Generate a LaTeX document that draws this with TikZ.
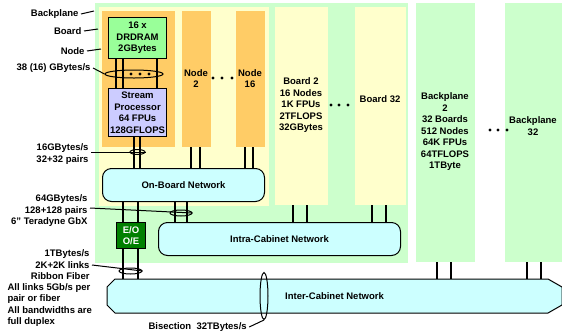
\documentclass[tikz,border=0pt]{standalone}
\usepackage{fontspec}
\setmainfont{Liberation Sans}
\usetikzlibrary{shapes.geometric}
\definecolor{bpgreen}{RGB}{204,255,204}
\definecolor{bdyellow}{RGB}{255,255,204}
\definecolor{ndorange}{RGB}{255,204,102}
\definecolor{memgreen}{RGB}{153,255,153}
\definecolor{splilac}{RGB}{204,204,255}
\definecolor{netcyan}{RGB}{204,255,255}
\definecolor{eogreen}{RGB}{0,128,0}

\begin{document}
\begin{tikzpicture}[x=1pt, y=-1pt, line width=1pt,
    every node/.style={font=\bfseries\fontsize{9.5}{11.5}\selectfont, inner sep=0pt, align=center},
    blk/.style={anchor=north west},
    backplane/.style={blk, fill=bpgreen},
    board/.style={blk, fill=bdyellow},
    nodebox/.style={blk, fill=ndorange},
    membox/.style={blk, draw, fill=memgreen},
    procbox/.style={blk, draw, fill=splilac},
    net/.style={blk, draw, fill=netcyan, rounded corners=9pt},
    bundle/.style={draw, ellipse},
    lbl/.style={anchor=east, align=right, inner xsep=2pt},
    link/.style={line width=1.1pt}]
    \useasboundingbox (0,0) rectangle (562,333);

    % cabinet
    \node[backplane, minimum width=313pt, minimum height=260pt] (bp1) at (94,2) {};
    \node[backplane, minimum width=59pt, minimum height=259pt] (bp2) at (415,2) {Backplane\\2\\32 Boards\\512 Nodes\\64K FPUs\\64TFLOPS\\1TByte};
    \node[backplane, minimum width=58pt, minimum height=259pt] (bp3) at (504,2) {};
    \node (bp3txt) at (533,126) {Backplane\\32};

    \node[board, minimum width=170pt, minimum height=199pt] (b1) at (98,6) {};
    \node[board, minimum width=53pt, minimum height=198pt] (b2) at (274,6) {Board 2\\16 Nodes\\1K FPUs\\2TFLOPS\\32GBytes};
    \node[board, minimum width=51pt, minimum height=198pt] (b3) at (354,6) {};
    \node (b3txt) at (380,99) {Board 32};

    \node[nodebox, minimum width=73pt, minimum height=136pt] (n1) at (101,10) {};
    \node[nodebox, minimum width=29pt, minimum height=136pt] (n2) at (181,10) {Node\\2};
    \node[nodebox, minimum width=29pt, minimum height=136pt] (n16) at (235,10) {Node\\16};

    \node[membox, minimum width=58pt, minimum height=41pt] (mem) at (108,17) {16 x\\DRDRAM\\2GBytes};
    \node[procbox, minimum width=58pt, minimum height=48pt] (sp) at (108,88) {Stream\\Processor\\64 FPUs\\128GFLOPS};

    % networks
    \node[net, minimum width=162pt, minimum height=33pt] (obn) at (102,168) {On-Board Network};
    \node[net, minimum width=242pt, minimum height=33pt] (intra) at (158,222) {Intra-Cabinet Network};
    \node[blk, draw, fill=eogreen, text=white, minimum width=29pt, minimum height=26pt] (eo) at (116,222) {E/O\\O/E};
    \draw[fill=netcyan] (115,279) -- (548,279) -- (562,287) -- (562,305) -- (548,313) -- (115,313) -- (107,305) -- (107,287) -- cycle;
    \node[minimum width=455pt, minimum height=34pt] (inter) at (334.5,296) {Inter-Cabinet Network};

    % links
    \foreach \a/\b/\x in {mem/sp/116, mem/sp/123, mem/sp/157, sp/obn/134, sp/obn/140,
        n2/obn/191, n2/obn/200, n16/obn/245, n16/obn/253, obn/eo/123, obn/eo/138,
        eo/inter/123, eo/inter/138, obn/intra/175, obn/intra/187, b2/intra/293, b2/intra/307,
        b3/intra/372, b3/intra/386, bp2/inter/437, bp2/inter/451, bp3/inter/527, bp3/inter/541}
        \draw[link] (\a.south -| \x,0) -- (\b.north -| \x,0);

    % dots
    \foreach \x in {131,140,149} \fill (\x,74) circle (1.6pt);
    \foreach \x in {213,222,232} \fill (\x,78) circle (1.6pt);
    \foreach \x in {331,339,348} \fill (\x,105) circle (1.6pt);
    \foreach \x in {490,498,507} \fill (\x,130) circle (1.6pt);

    % bundles
    \node[bundle, minimum width=58pt, minimum height=8pt] (emem) at (134,74) {};
    \node[bundle, minimum width=15pt, minimum height=5pt] (esp) at (137.5,152) {};
    \node[bundle, minimum width=22pt, minimum height=6pt] (eobn) at (181,213) {};
    \node[bundle, minimum width=23pt, minimum height=6pt] (efib) at (130.5,271) {};
    \node[bundle, minimum width=8pt, minimum height=47pt] (ebis) at (264,296) {};

    % labels
    \node[lbl] (lbp) at (81,14) {Backplane};
    \node[lbl] (lbd) at (84,31) {Board};
    \node[lbl] (lnd) at (87,51) {Node};
    \node[lbl] (l38) at (93,68) {38 (16) GBytes/s};
    \node[lbl] (l16) at (91,154) {16GBytes/s\\32+32 pairs};
    \node[lbl] (l64) at (90,211) {64GBytes/s\\128+128 pairs\\6" Teradyne GbX};
    \node[lbl] (l1t) at (92,265) {1TBytes/s\\2K+2K links\\Ribbon Fiber};
    \node[anchor=west, align=left] (lall) at (7,305) {All links 5Gb/s per\\pair or fiber\\All bandwidths are\\full duplex};
    \node[anchor=west, inner xsep=2pt] (lbis) at (146,327) {Bisection~~32TBytes/s};

    \draw (lbp.east) -- ([yshift=3pt]lbp.east -| bp1.west);
    \draw (lbd.east) -- ([yshift=2pt]lbd.east -| b1.west);
    \draw (lnd.east) -- ([yshift=2pt]lnd.east -| n1.west);
    \draw (l38.east) -- (emem.west);
    \draw ([yshift=2pt]l16.east) -- (esp.east);
    \draw ([yshift=3pt]l64.east) -- (eobn.east);
    \draw (l1t.east) -- (efib.east);
    \draw (lbis.east) -- (ebis.south);
\end{tikzpicture}
\end{document}
